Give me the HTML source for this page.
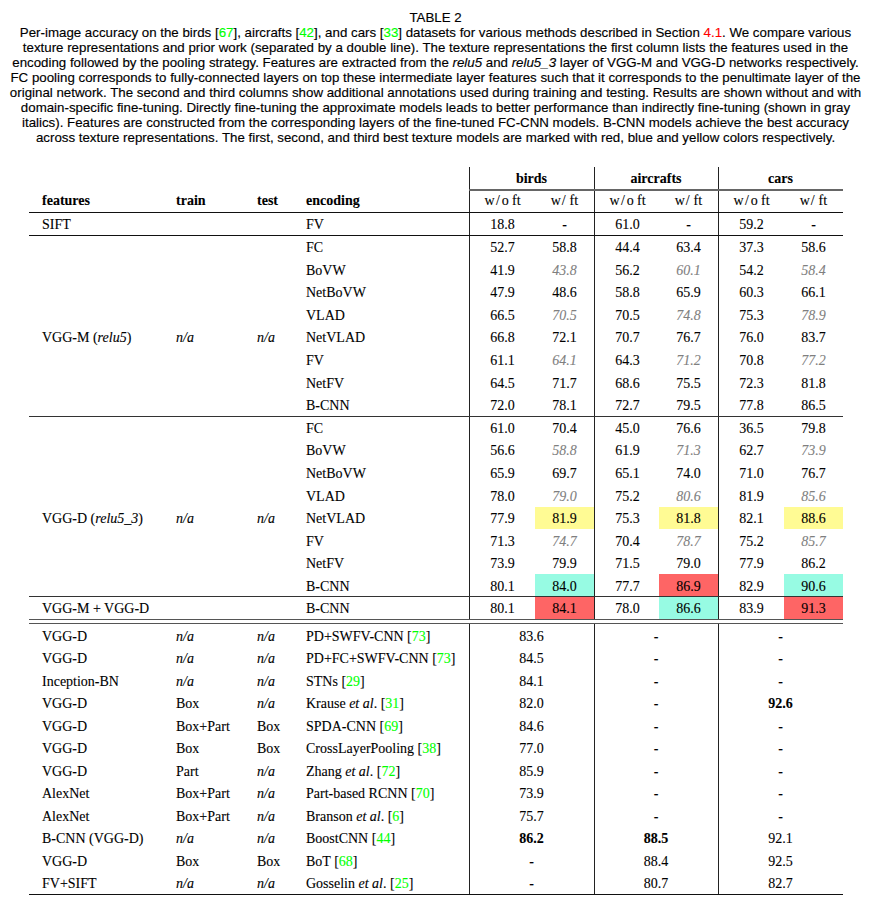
<!DOCTYPE html>
<html><head><meta charset="utf-8"><style>
html,body{margin:0;padding:0;background:#fff;}
body{width:870px;height:915px;position:relative;overflow:hidden;color:#000;}
.t{position:absolute;white-space:nowrap;line-height:0;height:0;-webkit-text-stroke:0.1px currentColor;}
.c{text-align:center;}
.r{position:absolute;}
</style></head><body>
<div class="r" style="left:535px;top:506.75px;width:59px;height:22.362499999999955px;background:#fffb94"></div>
<div class="r" style="left:659px;top:506.75px;width:59px;height:22.362499999999955px;background:#fffb94"></div>
<div class="r" style="left:784px;top:506.75px;width:59px;height:22.362499999999955px;background:#fffb94"></div>
<div class="r" style="left:535px;top:574.4375px;width:59px;height:22.362499999999955px;background:#97fbe3"></div>
<div class="r" style="left:659px;top:574.4375px;width:59px;height:22.362499999999955px;background:#fe6565"></div>
<div class="r" style="left:784px;top:574.4375px;width:59px;height:22.362499999999955px;background:#97fbe3"></div>
<div class="r" style="left:535px;top:597px;width:59px;height:22.600000000000023px;background:#fe6565"></div>
<div class="r" style="left:659px;top:597px;width:59px;height:22.600000000000023px;background:#97fbe3"></div>
<div class="r" style="left:784px;top:597px;width:59px;height:22.600000000000023px;background:#fe6565"></div>
<div class="r" style="left:469.0px;top:167px;width:1.1px;height:453px;background:#222"></div>
<div class="r" style="left:469.0px;top:624px;width:1.1px;height:270px;background:#222"></div>
<div class="r" style="left:594.0px;top:167px;width:1.1px;height:453px;background:#222"></div>
<div class="r" style="left:594.0px;top:624px;width:1.1px;height:270px;background:#222"></div>
<div class="r" style="left:718.0px;top:167px;width:1.1px;height:453px;background:#222"></div>
<div class="r" style="left:718.0px;top:624px;width:1.1px;height:270px;background:#222"></div>
<div class="r" style="left:469px;top:189.2px;width:374px;height:1.6px;background:#666"></div>
<div class="r" style="left:29px;top:212px;width:814px;height:1.1px;background:#111"></div>
<div class="r" style="left:29px;top:235px;width:814px;height:1.1px;background:#111"></div>
<div class="r" style="left:29px;top:416px;width:814px;height:1.4px;background:#333"></div>
<div class="r" style="left:29px;top:596px;width:814px;height:1.4px;background:#333"></div>
<div class="r" style="left:29px;top:619.0px;width:814px;height:1.4px;background:#555"></div>
<div class="r" style="left:29px;top:623.0px;width:814px;height:1.4px;background:#555"></div>
<div class="r" style="left:29px;top:894px;width:814px;height:1.2px;background:#111"></div>
<div class="t c" style="left:-564.50px;width:2000px;top:18.19px;font-size:13.3px;font-family:'Liberation Sans', sans-serif;-webkit-text-stroke:0.15px currentColor;">TABLE 2</div>
<div class="t c" style="left:-564.50px;width:2000px;top:33.39px;font-size:13.3px;font-family:'Liberation Sans', sans-serif;-webkit-text-stroke:0.15px currentColor;">Per-image accuracy on the birds [<span style="color:#00ff00">67</span>], aircrafts [<span style="color:#00ff00">42</span>], and cars [<span style="color:#00ff00">33</span>] datasets for various methods described in Section <span style="color:#ff0000">4.1</span>. We compare various</div>
<div class="t c" style="left:-564.50px;width:2000px;top:48.29px;font-size:13.3px;font-family:'Liberation Sans', sans-serif;-webkit-text-stroke:0.15px currentColor;">texture representations and prior work (separated by a double line). The texture representations the first column lists the features used in the</div>
<div class="t c" style="left:-564.50px;width:2000px;top:63.19px;font-size:13.3px;font-family:'Liberation Sans', sans-serif;-webkit-text-stroke:0.15px currentColor;">encoding followed by the pooling strategy. Features are extracted from the <i>relu5</i> and <i>relu5_3</i> layer of VGG-M and VGG-D networks respectively.</div>
<div class="t c" style="left:-564.50px;width:2000px;top:78.09px;font-size:13.3px;font-family:'Liberation Sans', sans-serif;-webkit-text-stroke:0.15px currentColor;">FC pooling corresponds to fully-connected layers on top these intermediate layer features such that it corresponds to the penultimate layer of the</div>
<div class="t c" style="left:-564.50px;width:2000px;top:92.99px;font-size:13.3px;font-family:'Liberation Sans', sans-serif;-webkit-text-stroke:0.15px currentColor;">original network. The second and third columns show additional annotations used during training and testing. Results are shown without and with</div>
<div class="t c" style="left:-564.50px;width:2000px;top:107.89px;font-size:13.3px;font-family:'Liberation Sans', sans-serif;-webkit-text-stroke:0.15px currentColor;">domain-specific fine-tuning. Directly fine-tuning the approximate models leads to better performance than indirectly fine-tuning (shown in gray</div>
<div class="t c" style="left:-564.50px;width:2000px;top:122.79px;font-size:13.3px;font-family:'Liberation Sans', sans-serif;-webkit-text-stroke:0.15px currentColor;">italics). Features are constructed from the corresponding layers of the fine-tuned FC-CNN models. B-CNN models achieve the best accuracy</div>
<div class="t c" style="left:-564.50px;width:2000px;top:137.69px;font-size:13.3px;font-family:'Liberation Sans', sans-serif;-webkit-text-stroke:0.15px currentColor;">across texture representations. The first, second, and third best texture models are marked with red, blue and yellow colors respectively.</div>
<div class="t c" style="left:-468.50px;width:2000px;top:178.88px;font-size:14.0px;font-family:'Liberation Serif', serif;"><b>birds</b></div>
<div class="t c" style="left:-344.00px;width:2000px;top:178.88px;font-size:14.0px;font-family:'Liberation Serif', serif;"><b>aircrafts</b></div>
<div class="t c" style="left:-219.50px;width:2000px;top:178.88px;font-size:14.0px;font-family:'Liberation Serif', serif;"><b>cars</b></div>
<div class="t" style="left:42.00px;top:201.08px;font-size:14.0px;font-family:'Liberation Serif', serif;"><b>features</b></div>
<div class="t" style="left:176.00px;top:201.08px;font-size:14.0px;font-family:'Liberation Serif', serif;"><b>train</b></div>
<div class="t" style="left:257.00px;top:201.08px;font-size:14.0px;font-family:'Liberation Serif', serif;"><b>test</b></div>
<div class="t" style="left:306.00px;top:201.08px;font-size:14.0px;font-family:'Liberation Serif', serif;"><b>encoding</b></div>
<div class="t c" style="left:-497.50px;width:2000px;top:201.08px;font-size:14.0px;font-family:'Liberation Serif', serif;">w<span style="margin-left:1.5px;margin-right:1.8px">/</span>o<span style="margin-right:-0.3px"> </span>ft</div>
<div class="t c" style="left:-435.50px;width:2000px;top:201.08px;font-size:14.0px;font-family:'Liberation Serif', serif;">w<span style="margin-left:.7px;margin-right:.6px">/</span> ft</div>
<div class="t c" style="left:-372.50px;width:2000px;top:201.08px;font-size:14.0px;font-family:'Liberation Serif', serif;">w<span style="margin-left:1.5px;margin-right:1.8px">/</span>o<span style="margin-right:-0.3px"> </span>ft</div>
<div class="t c" style="left:-311.50px;width:2000px;top:201.08px;font-size:14.0px;font-family:'Liberation Serif', serif;">w<span style="margin-left:.7px;margin-right:.6px">/</span> ft</div>
<div class="t c" style="left:-248.50px;width:2000px;top:201.08px;font-size:14.0px;font-family:'Liberation Serif', serif;">w<span style="margin-left:1.5px;margin-right:1.8px">/</span>o<span style="margin-right:-0.3px"> </span>ft</div>
<div class="t c" style="left:-186.50px;width:2000px;top:201.08px;font-size:14.0px;font-family:'Liberation Serif', serif;">w<span style="margin-left:.7px;margin-right:.6px">/</span> ft</div>
<div class="t" style="left:42.00px;top:224.88px;font-size:14.0px;font-family:'Liberation Serif', serif;">SIFT</div>
<div class="t" style="left:306.00px;top:224.88px;font-size:14.0px;font-family:'Liberation Serif', serif;">FV</div>
<div class="t c" style="left:-497.50px;width:2000px;top:224.88px;font-size:14.0px;font-family:'Liberation Serif', serif;">18.8</div>
<div class="t c" style="left:-435.50px;width:2000px;top:224.88px;font-size:14.0px;font-family:'Liberation Serif', serif;">-</div>
<div class="t c" style="left:-372.50px;width:2000px;top:224.88px;font-size:14.0px;font-family:'Liberation Serif', serif;">61.0</div>
<div class="t c" style="left:-311.50px;width:2000px;top:224.88px;font-size:14.0px;font-family:'Liberation Serif', serif;">-</div>
<div class="t c" style="left:-248.50px;width:2000px;top:224.88px;font-size:14.0px;font-family:'Liberation Serif', serif;">59.2</div>
<div class="t c" style="left:-186.50px;width:2000px;top:224.88px;font-size:14.0px;font-family:'Liberation Serif', serif;">-</div>
<div class="t" style="left:306.00px;top:247.88px;font-size:14.0px;font-family:'Liberation Serif', serif;">FC</div>
<div class="t c" style="left:-497.50px;width:2000px;top:247.88px;font-size:14.0px;font-family:'Liberation Serif', serif;">52.7</div>
<div class="t c" style="left:-435.50px;width:2000px;top:247.88px;font-size:14.0px;font-family:'Liberation Serif', serif;">58.8</div>
<div class="t c" style="left:-372.50px;width:2000px;top:247.88px;font-size:14.0px;font-family:'Liberation Serif', serif;">44.4</div>
<div class="t c" style="left:-311.50px;width:2000px;top:247.88px;font-size:14.0px;font-family:'Liberation Serif', serif;">63.4</div>
<div class="t c" style="left:-248.50px;width:2000px;top:247.88px;font-size:14.0px;font-family:'Liberation Serif', serif;">37.3</div>
<div class="t c" style="left:-186.50px;width:2000px;top:247.88px;font-size:14.0px;font-family:'Liberation Serif', serif;">58.6</div>
<div class="t" style="left:306.00px;top:270.50px;font-size:14.0px;font-family:'Liberation Serif', serif;">BoVW</div>
<div class="t c" style="left:-497.50px;width:2000px;top:270.50px;font-size:14.0px;font-family:'Liberation Serif', serif;">41.9</div>
<div class="t c" style="left:-435.50px;width:2000px;top:270.50px;font-size:14.0px;font-family:'Liberation Serif', serif;"><i style="color:#7f7f7f">43.8</i></div>
<div class="t c" style="left:-372.50px;width:2000px;top:270.50px;font-size:14.0px;font-family:'Liberation Serif', serif;">56.2</div>
<div class="t c" style="left:-311.50px;width:2000px;top:270.50px;font-size:14.0px;font-family:'Liberation Serif', serif;"><i style="color:#7f7f7f">60.1</i></div>
<div class="t c" style="left:-248.50px;width:2000px;top:270.50px;font-size:14.0px;font-family:'Liberation Serif', serif;">54.2</div>
<div class="t c" style="left:-186.50px;width:2000px;top:270.50px;font-size:14.0px;font-family:'Liberation Serif', serif;"><i style="color:#7f7f7f">58.4</i></div>
<div class="t" style="left:306.00px;top:293.12px;font-size:14.0px;font-family:'Liberation Serif', serif;">NetBoVW</div>
<div class="t c" style="left:-497.50px;width:2000px;top:293.12px;font-size:14.0px;font-family:'Liberation Serif', serif;">47.9</div>
<div class="t c" style="left:-435.50px;width:2000px;top:293.12px;font-size:14.0px;font-family:'Liberation Serif', serif;">48.6</div>
<div class="t c" style="left:-372.50px;width:2000px;top:293.12px;font-size:14.0px;font-family:'Liberation Serif', serif;">58.8</div>
<div class="t c" style="left:-311.50px;width:2000px;top:293.12px;font-size:14.0px;font-family:'Liberation Serif', serif;">65.9</div>
<div class="t c" style="left:-248.50px;width:2000px;top:293.12px;font-size:14.0px;font-family:'Liberation Serif', serif;">60.3</div>
<div class="t c" style="left:-186.50px;width:2000px;top:293.12px;font-size:14.0px;font-family:'Liberation Serif', serif;">66.1</div>
<div class="t" style="left:306.00px;top:315.75px;font-size:14.0px;font-family:'Liberation Serif', serif;">VLAD</div>
<div class="t c" style="left:-497.50px;width:2000px;top:315.75px;font-size:14.0px;font-family:'Liberation Serif', serif;">66.5</div>
<div class="t c" style="left:-435.50px;width:2000px;top:315.75px;font-size:14.0px;font-family:'Liberation Serif', serif;"><i style="color:#7f7f7f">70.5</i></div>
<div class="t c" style="left:-372.50px;width:2000px;top:315.75px;font-size:14.0px;font-family:'Liberation Serif', serif;">70.5</div>
<div class="t c" style="left:-311.50px;width:2000px;top:315.75px;font-size:14.0px;font-family:'Liberation Serif', serif;"><i style="color:#7f7f7f">74.8</i></div>
<div class="t c" style="left:-248.50px;width:2000px;top:315.75px;font-size:14.0px;font-family:'Liberation Serif', serif;">75.3</div>
<div class="t c" style="left:-186.50px;width:2000px;top:315.75px;font-size:14.0px;font-family:'Liberation Serif', serif;"><i style="color:#7f7f7f">78.9</i></div>
<div class="t" style="left:306.00px;top:338.38px;font-size:14.0px;font-family:'Liberation Serif', serif;">NetVLAD</div>
<div class="t c" style="left:-497.50px;width:2000px;top:338.38px;font-size:14.0px;font-family:'Liberation Serif', serif;">66.8</div>
<div class="t c" style="left:-435.50px;width:2000px;top:338.38px;font-size:14.0px;font-family:'Liberation Serif', serif;">72.1</div>
<div class="t c" style="left:-372.50px;width:2000px;top:338.38px;font-size:14.0px;font-family:'Liberation Serif', serif;">70.7</div>
<div class="t c" style="left:-311.50px;width:2000px;top:338.38px;font-size:14.0px;font-family:'Liberation Serif', serif;">76.7</div>
<div class="t c" style="left:-248.50px;width:2000px;top:338.38px;font-size:14.0px;font-family:'Liberation Serif', serif;">76.0</div>
<div class="t c" style="left:-186.50px;width:2000px;top:338.38px;font-size:14.0px;font-family:'Liberation Serif', serif;">83.7</div>
<div class="t" style="left:306.00px;top:361.00px;font-size:14.0px;font-family:'Liberation Serif', serif;">FV</div>
<div class="t c" style="left:-497.50px;width:2000px;top:361.00px;font-size:14.0px;font-family:'Liberation Serif', serif;">61.1</div>
<div class="t c" style="left:-435.50px;width:2000px;top:361.00px;font-size:14.0px;font-family:'Liberation Serif', serif;"><i style="color:#7f7f7f">64.1</i></div>
<div class="t c" style="left:-372.50px;width:2000px;top:361.00px;font-size:14.0px;font-family:'Liberation Serif', serif;">64.3</div>
<div class="t c" style="left:-311.50px;width:2000px;top:361.00px;font-size:14.0px;font-family:'Liberation Serif', serif;"><i style="color:#7f7f7f">71.2</i></div>
<div class="t c" style="left:-248.50px;width:2000px;top:361.00px;font-size:14.0px;font-family:'Liberation Serif', serif;">70.8</div>
<div class="t c" style="left:-186.50px;width:2000px;top:361.00px;font-size:14.0px;font-family:'Liberation Serif', serif;"><i style="color:#7f7f7f">77.2</i></div>
<div class="t" style="left:306.00px;top:383.62px;font-size:14.0px;font-family:'Liberation Serif', serif;">NetFV</div>
<div class="t c" style="left:-497.50px;width:2000px;top:383.62px;font-size:14.0px;font-family:'Liberation Serif', serif;">64.5</div>
<div class="t c" style="left:-435.50px;width:2000px;top:383.62px;font-size:14.0px;font-family:'Liberation Serif', serif;">71.7</div>
<div class="t c" style="left:-372.50px;width:2000px;top:383.62px;font-size:14.0px;font-family:'Liberation Serif', serif;">68.6</div>
<div class="t c" style="left:-311.50px;width:2000px;top:383.62px;font-size:14.0px;font-family:'Liberation Serif', serif;">75.5</div>
<div class="t c" style="left:-248.50px;width:2000px;top:383.62px;font-size:14.0px;font-family:'Liberation Serif', serif;">72.3</div>
<div class="t c" style="left:-186.50px;width:2000px;top:383.62px;font-size:14.0px;font-family:'Liberation Serif', serif;">81.8</div>
<div class="t" style="left:306.00px;top:406.25px;font-size:14.0px;font-family:'Liberation Serif', serif;">B-CNN</div>
<div class="t c" style="left:-497.50px;width:2000px;top:406.25px;font-size:14.0px;font-family:'Liberation Serif', serif;">72.0</div>
<div class="t c" style="left:-435.50px;width:2000px;top:406.25px;font-size:14.0px;font-family:'Liberation Serif', serif;">78.1</div>
<div class="t c" style="left:-372.50px;width:2000px;top:406.25px;font-size:14.0px;font-family:'Liberation Serif', serif;">72.7</div>
<div class="t c" style="left:-311.50px;width:2000px;top:406.25px;font-size:14.0px;font-family:'Liberation Serif', serif;">79.5</div>
<div class="t c" style="left:-248.50px;width:2000px;top:406.25px;font-size:14.0px;font-family:'Liberation Serif', serif;">77.8</div>
<div class="t c" style="left:-186.50px;width:2000px;top:406.25px;font-size:14.0px;font-family:'Liberation Serif', serif;">86.5</div>
<div class="t" style="left:42.00px;top:338.38px;font-size:14.0px;font-family:'Liberation Serif', serif;">VGG-M (<i>relu5</i>)</div>
<div class="t" style="left:176.00px;top:338.38px;font-size:14.0px;font-family:'Liberation Serif', serif;"><i>n/a</i></div>
<div class="t" style="left:257.00px;top:338.38px;font-size:14.0px;font-family:'Liberation Serif', serif;"><i>n/a</i></div>
<div class="t" style="left:306.00px;top:428.88px;font-size:14.0px;font-family:'Liberation Serif', serif;">FC</div>
<div class="t c" style="left:-497.50px;width:2000px;top:428.88px;font-size:14.0px;font-family:'Liberation Serif', serif;">61.0</div>
<div class="t c" style="left:-435.50px;width:2000px;top:428.88px;font-size:14.0px;font-family:'Liberation Serif', serif;">70.4</div>
<div class="t c" style="left:-372.50px;width:2000px;top:428.88px;font-size:14.0px;font-family:'Liberation Serif', serif;">45.0</div>
<div class="t c" style="left:-311.50px;width:2000px;top:428.88px;font-size:14.0px;font-family:'Liberation Serif', serif;">76.6</div>
<div class="t c" style="left:-248.50px;width:2000px;top:428.88px;font-size:14.0px;font-family:'Liberation Serif', serif;">36.5</div>
<div class="t c" style="left:-186.50px;width:2000px;top:428.88px;font-size:14.0px;font-family:'Liberation Serif', serif;">79.8</div>
<div class="t" style="left:306.00px;top:451.44px;font-size:14.0px;font-family:'Liberation Serif', serif;">BoVW</div>
<div class="t c" style="left:-497.50px;width:2000px;top:451.44px;font-size:14.0px;font-family:'Liberation Serif', serif;">56.6</div>
<div class="t c" style="left:-435.50px;width:2000px;top:451.44px;font-size:14.0px;font-family:'Liberation Serif', serif;"><i style="color:#7f7f7f">58.8</i></div>
<div class="t c" style="left:-372.50px;width:2000px;top:451.44px;font-size:14.0px;font-family:'Liberation Serif', serif;">61.9</div>
<div class="t c" style="left:-311.50px;width:2000px;top:451.44px;font-size:14.0px;font-family:'Liberation Serif', serif;"><i style="color:#7f7f7f">71.3</i></div>
<div class="t c" style="left:-248.50px;width:2000px;top:451.44px;font-size:14.0px;font-family:'Liberation Serif', serif;">62.7</div>
<div class="t c" style="left:-186.50px;width:2000px;top:451.44px;font-size:14.0px;font-family:'Liberation Serif', serif;"><i style="color:#7f7f7f">73.9</i></div>
<div class="t" style="left:306.00px;top:474.00px;font-size:14.0px;font-family:'Liberation Serif', serif;">NetBoVW</div>
<div class="t c" style="left:-497.50px;width:2000px;top:474.00px;font-size:14.0px;font-family:'Liberation Serif', serif;">65.9</div>
<div class="t c" style="left:-435.50px;width:2000px;top:474.00px;font-size:14.0px;font-family:'Liberation Serif', serif;">69.7</div>
<div class="t c" style="left:-372.50px;width:2000px;top:474.00px;font-size:14.0px;font-family:'Liberation Serif', serif;">65.1</div>
<div class="t c" style="left:-311.50px;width:2000px;top:474.00px;font-size:14.0px;font-family:'Liberation Serif', serif;">74.0</div>
<div class="t c" style="left:-248.50px;width:2000px;top:474.00px;font-size:14.0px;font-family:'Liberation Serif', serif;">71.0</div>
<div class="t c" style="left:-186.50px;width:2000px;top:474.00px;font-size:14.0px;font-family:'Liberation Serif', serif;">76.7</div>
<div class="t" style="left:306.00px;top:496.56px;font-size:14.0px;font-family:'Liberation Serif', serif;">VLAD</div>
<div class="t c" style="left:-497.50px;width:2000px;top:496.56px;font-size:14.0px;font-family:'Liberation Serif', serif;">78.0</div>
<div class="t c" style="left:-435.50px;width:2000px;top:496.56px;font-size:14.0px;font-family:'Liberation Serif', serif;"><i style="color:#7f7f7f">79.0</i></div>
<div class="t c" style="left:-372.50px;width:2000px;top:496.56px;font-size:14.0px;font-family:'Liberation Serif', serif;">75.2</div>
<div class="t c" style="left:-311.50px;width:2000px;top:496.56px;font-size:14.0px;font-family:'Liberation Serif', serif;"><i style="color:#7f7f7f">80.6</i></div>
<div class="t c" style="left:-248.50px;width:2000px;top:496.56px;font-size:14.0px;font-family:'Liberation Serif', serif;">81.9</div>
<div class="t c" style="left:-186.50px;width:2000px;top:496.56px;font-size:14.0px;font-family:'Liberation Serif', serif;"><i style="color:#7f7f7f">85.6</i></div>
<div class="t" style="left:306.00px;top:519.12px;font-size:14.0px;font-family:'Liberation Serif', serif;">NetVLAD</div>
<div class="t c" style="left:-497.50px;width:2000px;top:519.12px;font-size:14.0px;font-family:'Liberation Serif', serif;">77.9</div>
<div class="t c" style="left:-435.50px;width:2000px;top:519.12px;font-size:14.0px;font-family:'Liberation Serif', serif;">81.9</div>
<div class="t c" style="left:-372.50px;width:2000px;top:519.12px;font-size:14.0px;font-family:'Liberation Serif', serif;">75.3</div>
<div class="t c" style="left:-311.50px;width:2000px;top:519.12px;font-size:14.0px;font-family:'Liberation Serif', serif;">81.8</div>
<div class="t c" style="left:-248.50px;width:2000px;top:519.12px;font-size:14.0px;font-family:'Liberation Serif', serif;">82.1</div>
<div class="t c" style="left:-186.50px;width:2000px;top:519.12px;font-size:14.0px;font-family:'Liberation Serif', serif;">88.6</div>
<div class="t" style="left:306.00px;top:541.69px;font-size:14.0px;font-family:'Liberation Serif', serif;">FV</div>
<div class="t c" style="left:-497.50px;width:2000px;top:541.69px;font-size:14.0px;font-family:'Liberation Serif', serif;">71.3</div>
<div class="t c" style="left:-435.50px;width:2000px;top:541.69px;font-size:14.0px;font-family:'Liberation Serif', serif;"><i style="color:#7f7f7f">74.7</i></div>
<div class="t c" style="left:-372.50px;width:2000px;top:541.69px;font-size:14.0px;font-family:'Liberation Serif', serif;">70.4</div>
<div class="t c" style="left:-311.50px;width:2000px;top:541.69px;font-size:14.0px;font-family:'Liberation Serif', serif;"><i style="color:#7f7f7f">78.7</i></div>
<div class="t c" style="left:-248.50px;width:2000px;top:541.69px;font-size:14.0px;font-family:'Liberation Serif', serif;">75.2</div>
<div class="t c" style="left:-186.50px;width:2000px;top:541.69px;font-size:14.0px;font-family:'Liberation Serif', serif;"><i style="color:#7f7f7f">85.7</i></div>
<div class="t" style="left:306.00px;top:564.25px;font-size:14.0px;font-family:'Liberation Serif', serif;">NetFV</div>
<div class="t c" style="left:-497.50px;width:2000px;top:564.25px;font-size:14.0px;font-family:'Liberation Serif', serif;">73.9</div>
<div class="t c" style="left:-435.50px;width:2000px;top:564.25px;font-size:14.0px;font-family:'Liberation Serif', serif;">79.9</div>
<div class="t c" style="left:-372.50px;width:2000px;top:564.25px;font-size:14.0px;font-family:'Liberation Serif', serif;">71.5</div>
<div class="t c" style="left:-311.50px;width:2000px;top:564.25px;font-size:14.0px;font-family:'Liberation Serif', serif;">79.0</div>
<div class="t c" style="left:-248.50px;width:2000px;top:564.25px;font-size:14.0px;font-family:'Liberation Serif', serif;">77.9</div>
<div class="t c" style="left:-186.50px;width:2000px;top:564.25px;font-size:14.0px;font-family:'Liberation Serif', serif;">86.2</div>
<div class="t" style="left:306.00px;top:586.81px;font-size:14.0px;font-family:'Liberation Serif', serif;">B-CNN</div>
<div class="t c" style="left:-497.50px;width:2000px;top:586.81px;font-size:14.0px;font-family:'Liberation Serif', serif;">80.1</div>
<div class="t c" style="left:-435.50px;width:2000px;top:586.81px;font-size:14.0px;font-family:'Liberation Serif', serif;">84.0</div>
<div class="t c" style="left:-372.50px;width:2000px;top:586.81px;font-size:14.0px;font-family:'Liberation Serif', serif;">77.7</div>
<div class="t c" style="left:-311.50px;width:2000px;top:586.81px;font-size:14.0px;font-family:'Liberation Serif', serif;">86.9</div>
<div class="t c" style="left:-248.50px;width:2000px;top:586.81px;font-size:14.0px;font-family:'Liberation Serif', serif;">82.9</div>
<div class="t c" style="left:-186.50px;width:2000px;top:586.81px;font-size:14.0px;font-family:'Liberation Serif', serif;">90.6</div>
<div class="t" style="left:42.00px;top:519.12px;font-size:14.0px;font-family:'Liberation Serif', serif;">VGG-D (<i>relu5_3</i>)</div>
<div class="t" style="left:176.00px;top:519.12px;font-size:14.0px;font-family:'Liberation Serif', serif;"><i>n/a</i></div>
<div class="t" style="left:257.00px;top:519.12px;font-size:14.0px;font-family:'Liberation Serif', serif;"><i>n/a</i></div>
<div class="t" style="left:42.00px;top:609.37px;font-size:14.0px;font-family:'Liberation Serif', serif;">VGG-M + VGG-D</div>
<div class="t" style="left:306.00px;top:609.37px;font-size:14.0px;font-family:'Liberation Serif', serif;">B-CNN</div>
<div class="t c" style="left:-497.50px;width:2000px;top:609.37px;font-size:14.0px;font-family:'Liberation Serif', serif;">80.1</div>
<div class="t c" style="left:-435.50px;width:2000px;top:609.37px;font-size:14.0px;font-family:'Liberation Serif', serif;">84.1</div>
<div class="t c" style="left:-372.50px;width:2000px;top:609.37px;font-size:14.0px;font-family:'Liberation Serif', serif;">78.0</div>
<div class="t c" style="left:-311.50px;width:2000px;top:609.37px;font-size:14.0px;font-family:'Liberation Serif', serif;">86.6</div>
<div class="t c" style="left:-248.50px;width:2000px;top:609.37px;font-size:14.0px;font-family:'Liberation Serif', serif;">83.9</div>
<div class="t c" style="left:-186.50px;width:2000px;top:609.37px;font-size:14.0px;font-family:'Liberation Serif', serif;">91.3</div>
<div class="t" style="left:42.00px;top:636.57px;font-size:14.0px;font-family:'Liberation Serif', serif;">VGG-D</div>
<div class="t" style="left:176.00px;top:636.57px;font-size:14.0px;font-family:'Liberation Serif', serif;"><i>n/a</i></div>
<div class="t" style="left:257.00px;top:636.57px;font-size:14.0px;font-family:'Liberation Serif', serif;"><i>n/a</i></div>
<div class="t" style="left:306.00px;top:636.57px;font-size:14.0px;font-family:'Liberation Serif', serif;">PD+SWFV-CNN [<span style="color:#00ff00">73</span>]</div>
<div class="t c" style="left:-468.50px;width:2000px;top:636.57px;font-size:14.0px;font-family:'Liberation Serif', serif;">83.6</div>
<div class="t c" style="left:-344.00px;width:2000px;top:636.57px;font-size:14.0px;font-family:'Liberation Serif', serif;">-</div>
<div class="t c" style="left:-219.50px;width:2000px;top:636.57px;font-size:14.0px;font-family:'Liberation Serif', serif;">-</div>
<div class="t" style="left:42.00px;top:659.07px;font-size:14.0px;font-family:'Liberation Serif', serif;">VGG-D</div>
<div class="t" style="left:176.00px;top:659.07px;font-size:14.0px;font-family:'Liberation Serif', serif;"><i>n/a</i></div>
<div class="t" style="left:257.00px;top:659.07px;font-size:14.0px;font-family:'Liberation Serif', serif;"><i>n/a</i></div>
<div class="t" style="left:306.00px;top:659.07px;font-size:14.0px;font-family:'Liberation Serif', serif;">PD+FC+SWFV-CNN [<span style="color:#00ff00">73</span>]</div>
<div class="t c" style="left:-468.50px;width:2000px;top:659.07px;font-size:14.0px;font-family:'Liberation Serif', serif;">84.5</div>
<div class="t c" style="left:-344.00px;width:2000px;top:659.07px;font-size:14.0px;font-family:'Liberation Serif', serif;">-</div>
<div class="t c" style="left:-219.50px;width:2000px;top:659.07px;font-size:14.0px;font-family:'Liberation Serif', serif;">-</div>
<div class="t" style="left:42.00px;top:681.57px;font-size:14.0px;font-family:'Liberation Serif', serif;">Inception-BN</div>
<div class="t" style="left:176.00px;top:681.57px;font-size:14.0px;font-family:'Liberation Serif', serif;"><i>n/a</i></div>
<div class="t" style="left:257.00px;top:681.57px;font-size:14.0px;font-family:'Liberation Serif', serif;"><i>n/a</i></div>
<div class="t" style="left:306.00px;top:681.57px;font-size:14.0px;font-family:'Liberation Serif', serif;">STNs [<span style="color:#00ff00">29</span>]</div>
<div class="t c" style="left:-468.50px;width:2000px;top:681.57px;font-size:14.0px;font-family:'Liberation Serif', serif;">84.1</div>
<div class="t c" style="left:-344.00px;width:2000px;top:681.57px;font-size:14.0px;font-family:'Liberation Serif', serif;">-</div>
<div class="t c" style="left:-219.50px;width:2000px;top:681.57px;font-size:14.0px;font-family:'Liberation Serif', serif;">-</div>
<div class="t" style="left:42.00px;top:704.07px;font-size:14.0px;font-family:'Liberation Serif', serif;">VGG-D</div>
<div class="t" style="left:176.00px;top:704.07px;font-size:14.0px;font-family:'Liberation Serif', serif;">Box</div>
<div class="t" style="left:257.00px;top:704.07px;font-size:14.0px;font-family:'Liberation Serif', serif;"><i>n/a</i></div>
<div class="t" style="left:306.00px;top:704.07px;font-size:14.0px;font-family:'Liberation Serif', serif;">Krause <i>et al</i>. [<span style="color:#00ff00">31</span>]</div>
<div class="t c" style="left:-468.50px;width:2000px;top:704.07px;font-size:14.0px;font-family:'Liberation Serif', serif;">82.0</div>
<div class="t c" style="left:-344.00px;width:2000px;top:704.07px;font-size:14.0px;font-family:'Liberation Serif', serif;">-</div>
<div class="t c" style="left:-219.50px;width:2000px;top:704.07px;font-size:14.0px;font-family:'Liberation Serif', serif;"><b>92.6</b></div>
<div class="t" style="left:42.00px;top:726.57px;font-size:14.0px;font-family:'Liberation Serif', serif;">VGG-D</div>
<div class="t" style="left:176.00px;top:726.57px;font-size:14.0px;font-family:'Liberation Serif', serif;">Box+Part</div>
<div class="t" style="left:257.00px;top:726.57px;font-size:14.0px;font-family:'Liberation Serif', serif;">Box</div>
<div class="t" style="left:306.00px;top:726.57px;font-size:14.0px;font-family:'Liberation Serif', serif;">SPDA-CNN [<span style="color:#00ff00">69</span>]</div>
<div class="t c" style="left:-468.50px;width:2000px;top:726.57px;font-size:14.0px;font-family:'Liberation Serif', serif;">84.6</div>
<div class="t c" style="left:-344.00px;width:2000px;top:726.57px;font-size:14.0px;font-family:'Liberation Serif', serif;">-</div>
<div class="t c" style="left:-219.50px;width:2000px;top:726.57px;font-size:14.0px;font-family:'Liberation Serif', serif;">-</div>
<div class="t" style="left:42.00px;top:749.07px;font-size:14.0px;font-family:'Liberation Serif', serif;">VGG-D</div>
<div class="t" style="left:176.00px;top:749.07px;font-size:14.0px;font-family:'Liberation Serif', serif;">Box</div>
<div class="t" style="left:257.00px;top:749.07px;font-size:14.0px;font-family:'Liberation Serif', serif;">Box</div>
<div class="t" style="left:306.00px;top:749.07px;font-size:14.0px;font-family:'Liberation Serif', serif;">CrossLayerPooling [<span style="color:#00ff00">38</span>]</div>
<div class="t c" style="left:-468.50px;width:2000px;top:749.07px;font-size:14.0px;font-family:'Liberation Serif', serif;">77.0</div>
<div class="t c" style="left:-344.00px;width:2000px;top:749.07px;font-size:14.0px;font-family:'Liberation Serif', serif;">-</div>
<div class="t c" style="left:-219.50px;width:2000px;top:749.07px;font-size:14.0px;font-family:'Liberation Serif', serif;">-</div>
<div class="t" style="left:42.00px;top:771.57px;font-size:14.0px;font-family:'Liberation Serif', serif;">VGG-D</div>
<div class="t" style="left:176.00px;top:771.57px;font-size:14.0px;font-family:'Liberation Serif', serif;">Part</div>
<div class="t" style="left:257.00px;top:771.57px;font-size:14.0px;font-family:'Liberation Serif', serif;"><i>n/a</i></div>
<div class="t" style="left:306.00px;top:771.57px;font-size:14.0px;font-family:'Liberation Serif', serif;">Zhang <i>et al</i>. [<span style="color:#00ff00">72</span>]</div>
<div class="t c" style="left:-468.50px;width:2000px;top:771.57px;font-size:14.0px;font-family:'Liberation Serif', serif;">85.9</div>
<div class="t c" style="left:-344.00px;width:2000px;top:771.57px;font-size:14.0px;font-family:'Liberation Serif', serif;">-</div>
<div class="t c" style="left:-219.50px;width:2000px;top:771.57px;font-size:14.0px;font-family:'Liberation Serif', serif;">-</div>
<div class="t" style="left:42.00px;top:794.07px;font-size:14.0px;font-family:'Liberation Serif', serif;">AlexNet</div>
<div class="t" style="left:176.00px;top:794.07px;font-size:14.0px;font-family:'Liberation Serif', serif;">Box+Part</div>
<div class="t" style="left:257.00px;top:794.07px;font-size:14.0px;font-family:'Liberation Serif', serif;"><i>n/a</i></div>
<div class="t" style="left:306.00px;top:794.07px;font-size:14.0px;font-family:'Liberation Serif', serif;">Part-based RCNN [<span style="color:#00ff00">70</span>]</div>
<div class="t c" style="left:-468.50px;width:2000px;top:794.07px;font-size:14.0px;font-family:'Liberation Serif', serif;">73.9</div>
<div class="t c" style="left:-344.00px;width:2000px;top:794.07px;font-size:14.0px;font-family:'Liberation Serif', serif;">-</div>
<div class="t c" style="left:-219.50px;width:2000px;top:794.07px;font-size:14.0px;font-family:'Liberation Serif', serif;">-</div>
<div class="t" style="left:42.00px;top:816.57px;font-size:14.0px;font-family:'Liberation Serif', serif;">AlexNet</div>
<div class="t" style="left:176.00px;top:816.57px;font-size:14.0px;font-family:'Liberation Serif', serif;">Box+Part</div>
<div class="t" style="left:257.00px;top:816.57px;font-size:14.0px;font-family:'Liberation Serif', serif;"><i>n/a</i></div>
<div class="t" style="left:306.00px;top:816.57px;font-size:14.0px;font-family:'Liberation Serif', serif;">Branson <i>et al</i>. [<span style="color:#00ff00">6</span>]</div>
<div class="t c" style="left:-468.50px;width:2000px;top:816.57px;font-size:14.0px;font-family:'Liberation Serif', serif;">75.7</div>
<div class="t c" style="left:-344.00px;width:2000px;top:816.57px;font-size:14.0px;font-family:'Liberation Serif', serif;">-</div>
<div class="t c" style="left:-219.50px;width:2000px;top:816.57px;font-size:14.0px;font-family:'Liberation Serif', serif;">-</div>
<div class="t" style="left:42.00px;top:839.07px;font-size:14.0px;font-family:'Liberation Serif', serif;">B-CNN (VGG-D)</div>
<div class="t" style="left:176.00px;top:839.07px;font-size:14.0px;font-family:'Liberation Serif', serif;"><i>n/a</i></div>
<div class="t" style="left:257.00px;top:839.07px;font-size:14.0px;font-family:'Liberation Serif', serif;"><i>n/a</i></div>
<div class="t" style="left:306.00px;top:839.07px;font-size:14.0px;font-family:'Liberation Serif', serif;">BoostCNN [<span style="color:#00ff00">44</span>]</div>
<div class="t c" style="left:-468.50px;width:2000px;top:839.07px;font-size:14.0px;font-family:'Liberation Serif', serif;"><b>86.2</b></div>
<div class="t c" style="left:-344.00px;width:2000px;top:839.07px;font-size:14.0px;font-family:'Liberation Serif', serif;"><b>88.5</b></div>
<div class="t c" style="left:-219.50px;width:2000px;top:839.07px;font-size:14.0px;font-family:'Liberation Serif', serif;">92.1</div>
<div class="t" style="left:42.00px;top:861.57px;font-size:14.0px;font-family:'Liberation Serif', serif;">VGG-D</div>
<div class="t" style="left:176.00px;top:861.57px;font-size:14.0px;font-family:'Liberation Serif', serif;">Box</div>
<div class="t" style="left:257.00px;top:861.57px;font-size:14.0px;font-family:'Liberation Serif', serif;">Box</div>
<div class="t" style="left:306.00px;top:861.57px;font-size:14.0px;font-family:'Liberation Serif', serif;">BoT [<span style="color:#00ff00">68</span>]</div>
<div class="t c" style="left:-468.50px;width:2000px;top:861.57px;font-size:14.0px;font-family:'Liberation Serif', serif;">-</div>
<div class="t c" style="left:-344.00px;width:2000px;top:861.57px;font-size:14.0px;font-family:'Liberation Serif', serif;">88.4</div>
<div class="t c" style="left:-219.50px;width:2000px;top:861.57px;font-size:14.0px;font-family:'Liberation Serif', serif;">92.5</div>
<div class="t" style="left:42.00px;top:884.07px;font-size:14.0px;font-family:'Liberation Serif', serif;">FV+SIFT</div>
<div class="t" style="left:176.00px;top:884.07px;font-size:14.0px;font-family:'Liberation Serif', serif;"><i>n/a</i></div>
<div class="t" style="left:257.00px;top:884.07px;font-size:14.0px;font-family:'Liberation Serif', serif;"><i>n/a</i></div>
<div class="t" style="left:306.00px;top:884.07px;font-size:14.0px;font-family:'Liberation Serif', serif;">Gosselin <i>et al</i>. [<span style="color:#00ff00">25</span>]</div>
<div class="t c" style="left:-468.50px;width:2000px;top:884.07px;font-size:14.0px;font-family:'Liberation Serif', serif;">-</div>
<div class="t c" style="left:-344.00px;width:2000px;top:884.07px;font-size:14.0px;font-family:'Liberation Serif', serif;">80.7</div>
<div class="t c" style="left:-219.50px;width:2000px;top:884.07px;font-size:14.0px;font-family:'Liberation Serif', serif;">82.7</div>
</body></html>
